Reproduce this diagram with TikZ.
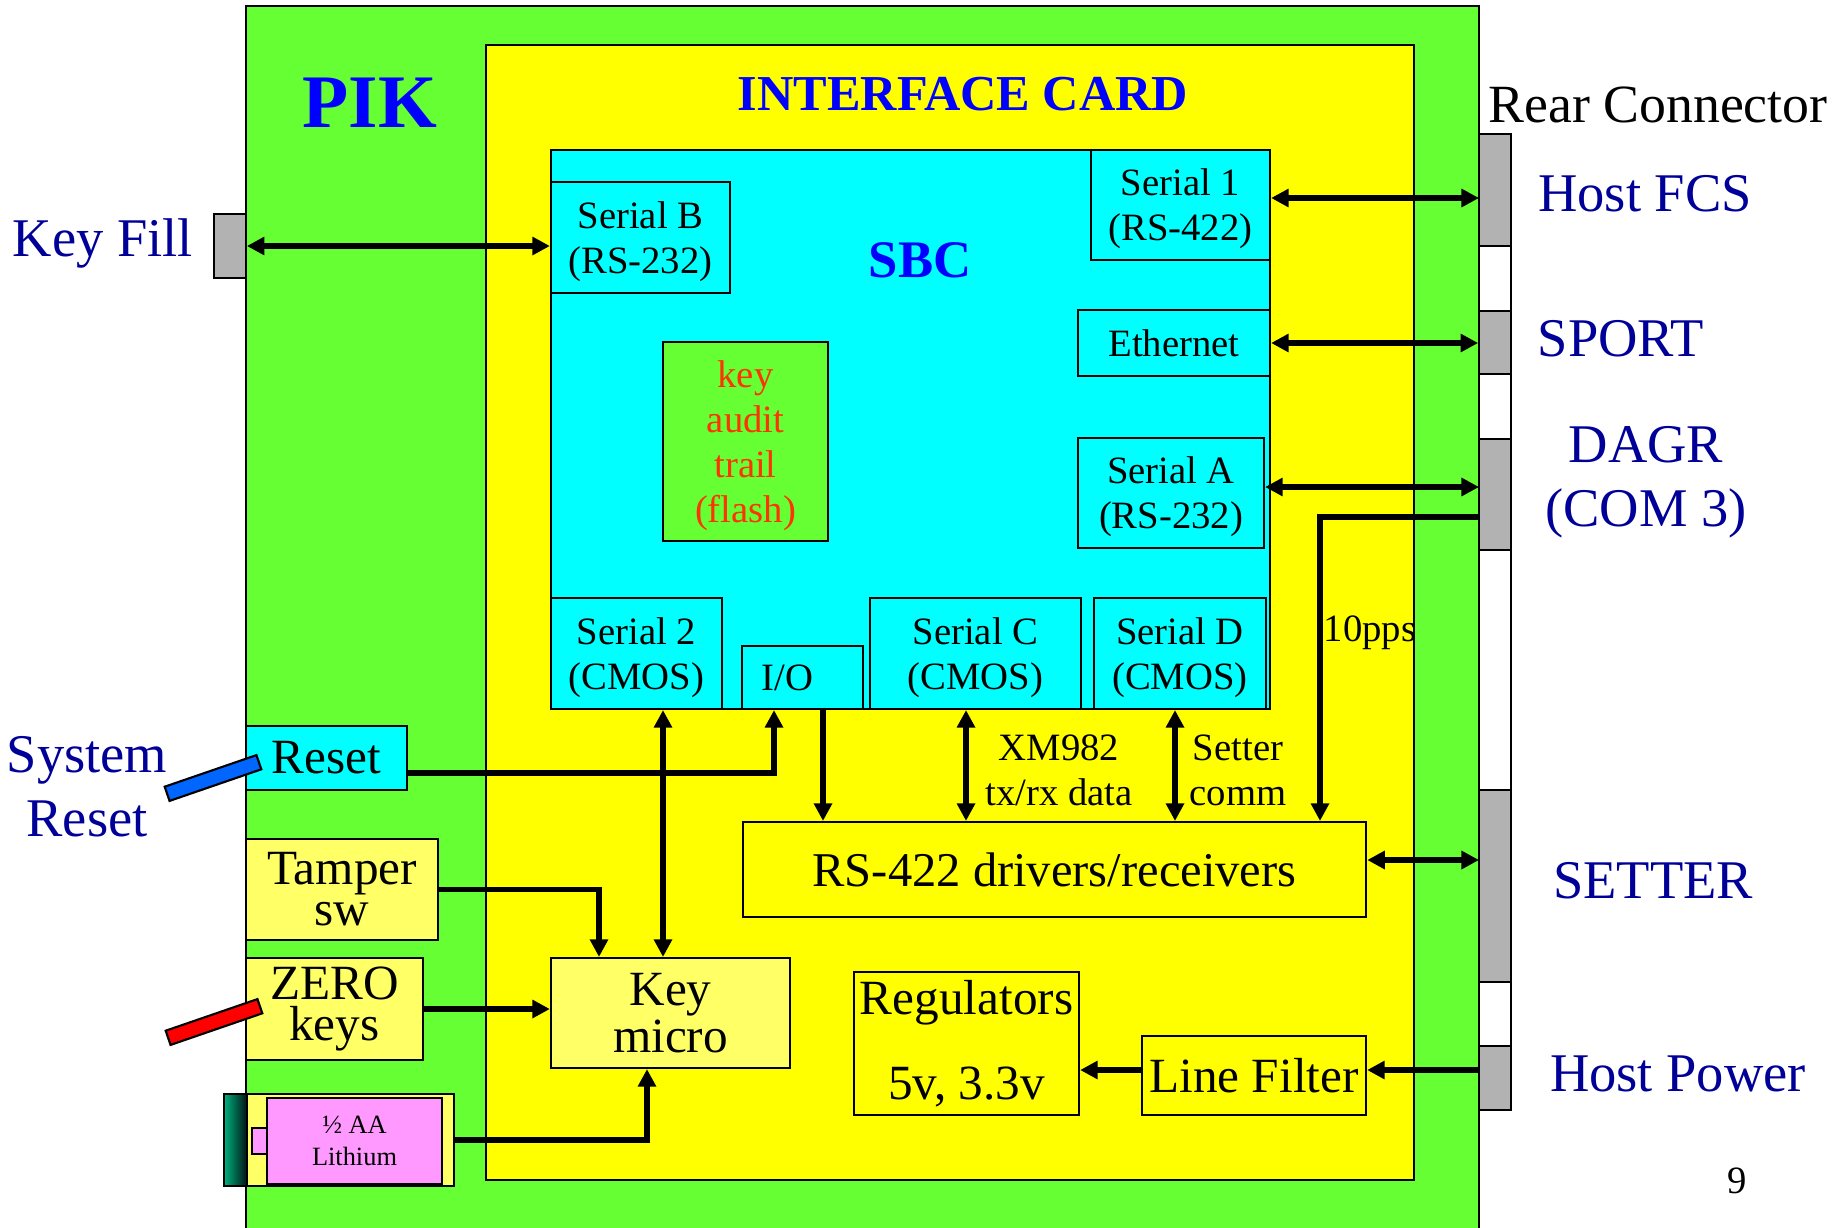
\documentclass[tikz,border=0pt]{standalone}
\usepackage{fontspec}
\setmainfont{Liberation Serif}
\usetikzlibrary{arrows.meta}
\definecolor{pikgreen}{RGB}{102,255,51}
\definecolor{cardyellow}{RGB}{255,255,0}
\definecolor{sbccyan}{RGB}{0,255,255}
\definecolor{paleyellow}{RGB}{255,255,102}
\definecolor{conngray}{RGB}{178,178,178}
\definecolor{navy}{RGB}{0,0,153}
\definecolor{auditred}{RGB}{255,51,0}
\definecolor{battpink}{RGB}{255,153,255}
\definecolor{battteal}{RGB}{0,176,128}
\definecolor{keyblue}{RGB}{0,102,255}
\tikzset{
 sbox/.style={draw,fill=sbccyan,line width=0.6pt,inner sep=0pt,align=center,font=\fontsize{11}{12.8}\selectfont,text depth=-0.5pt},
 ybox/.style={draw,line width=0.6pt,inner sep=0pt,align=center,font=\fontsize{14}{11.6}\selectfont},
 conn/.style={draw,fill=conngray,line width=0.5pt,minimum width=0.32cm,inner sep=0pt},
 lbl/.style={text=navy,align=center,font=\fontsize{15.5}{18.2}\selectfont},
 note/.style={align=center,font=\fontsize{11}{12.8}\selectfont},
 link/.style={line width=1.5pt},
}

\begin{document}
\begin{tikzpicture}[x=0.01cm,y=-0.01cm,>={Triangle[length=5pt,width=5pt]}]
\useasboundingbox (0,0) rectangle (1837,1227);
\draw[fill=pikgreen,line width=0.4pt] (246,6) rectangle (1479,1240);
\draw[fill=cardyellow,line width=0.6pt] (486,45) rectangle (1414,1180);
\draw[fill=sbccyan,line width=0.6pt] (551,150) rectangle (1270,709);
\draw[fill=white,line width=0.6pt] (1479,134) rectangle (1511,1110);
\node[text=blue,font=\fontsize{21.5}{24}\selectfont\bfseries] (piklabel) at (370,103) {PIK};
\node[text=blue,font=\fontsize{14.3}{17}\selectfont\bfseries] (cardlabel) at (963,94) {INTERFACE CARD};
\node[text=blue,font=\fontsize{15}{17}\selectfont\bfseries] (sbclabel) at (920,260) {SBC};

\node[conn,minimum height=1.12cm] (hostfcs) at (1495,190) {};
\node[conn,minimum height=0.63cm] (sport) at (1495,342.5) {};
\node[conn,minimum height=1.11cm] (dagr) at (1495,494.5) {};
\node[conn,minimum height=1.92cm] (setter) at (1495,886) {};
\node[conn,minimum height=0.64cm] (hostpwr) at (1495,1078) {};
\node[conn,minimum height=0.64cm] (keyfill) at (230,246) {};
\node[font=\fontsize{15.3}{18.2}\selectfont] (rearlabel) at (1658,105) {Rear Connector};
\node[lbl] (fcslabel) at (1645,194) {Host FCS};
\node[lbl] (sportlabel) at (1621,339) {SPORT};
\node[lbl] (dagrlabel) at (1646,482) {DAGR\\(COM 3)};
\node[lbl] (setterlabel) at (1653,881) {SETTER};
\node[lbl] (pwrlabel) at (1678,1074) {Host Power};
\node[lbl] (kflabel) at (103,243) {Key Fill};
\node[lbl] (sysrstlabel) at (87,787) {System\\Reset};
\node[note] (pagenum) at (1737,1181) {9};

\node[sbox,minimum width=1.79cm,minimum height=1.11cm] (serB) at (640.5,237.5) {Serial B\\(RS-232)};
\node[sbox,minimum width=1.79cm,minimum height=1.10cm] (ser1) at (1180.5,205) {Serial 1\\(RS-422)};
\node[sbox,minimum width=1.92cm,minimum height=0.66cm] (eth) at (1174,343) {Ethernet};
\node[sbox,minimum width=1.86cm,minimum height=1.10cm] (serA) at (1171,493) {Serial A\\(RS-232)};
\node[sbox,fill=pikgreen,text=auditred,minimum width=1.65cm,minimum height=1.99cm] (audit) at (745.5,441.5) {key\\audit\\trail\\(flash)};
\node[sbox,minimum width=1.71cm,minimum height=1.11cm] (ser2) at (636.5,653.5) {Serial 2\\(CMOS)};
\node[sbox,align=left,text width=0.81cm,inner xsep=0.2cm,minimum height=0.63cm] (io) at (802.5,677.5) {I/O};
\node[sbox,minimum width=2.11cm,minimum height=1.11cm] (serC) at (975.5,653.5) {Serial C\\(CMOS)};
\node[sbox,minimum width=1.72cm,minimum height=1.11cm] (serD) at (1180,653.5) {Serial D\\(CMOS)};

\node[ybox,fill=cardyellow,font=\fontsize{13.8}{16}\selectfont,minimum width=6.23cm,minimum height=0.95cm] (rs422) at (1054.5,869.5) {RS-422 drivers/receivers};
\node[ybox,fill=cardyellow,minimum width=2.25cm,minimum height=1.43cm] (regs) at (966.5,1043.5) {Regulators\\[11pt]5v, 3.3v};
\node[ybox,fill=cardyellow,minimum width=2.24cm,minimum height=0.79cm] (filter) at (1254,1075.5) {Line Filter};
\node[ybox,fill=paleyellow,font=\fontsize{14}{12.2}\selectfont,minimum width=2.39cm,minimum height=1.10cm] (keymicro) at (670.5,1013) {Key\\micro};
\node[ybox,fill=sbccyan,minimum width=1.61cm,minimum height=0.64cm] (reset) at (326.5,758) {Reset};
\node[ybox,fill=paleyellow,minimum width=1.92cm,minimum height=1.01cm] (tamper) at (342,889.5) {Tamper\\sw};
\node[ybox,fill=paleyellow,minimum width=1.77cm,minimum height=1.02cm] (zero) at (334.5,1009) {ZERO\\keys};

\node[draw,fill=paleyellow,line width=0.6pt,minimum width=2.08cm,minimum height=0.92cm,inner sep=0pt] (holder) at (350,1140) {};
\node[draw,left color=battteal,right color=black!85!teal,line width=0.6pt,minimum width=0.23cm,minimum height=0.92cm,inner sep=0pt] (battcap) at (235.5,1140) {};
\node[draw,fill=battpink,line width=0.6pt,minimum width=1.75cm,minimum height=0.86cm,inner sep=0pt,align=center,font=\fontsize{7.5}{9.1}\selectfont] (batt) at (354.5,1141) {½ AA\\Lithium};
\node[draw,fill=battpink,line width=0.6pt,minimum width=0.15cm,minimum height=0.26cm,inner sep=0pt] (nub) at (259.5,1141) {};

\node[draw,fill=keyblue,line width=0.6pt,minimum width=0.97cm,minimum height=0.15cm,inner sep=0pt,rotate=19] (rstkey) at (213,778) {};
\node[draw,fill=red,line width=0.6pt,minimum width=0.97cm,minimum height=0.15cm,inner sep=0pt,rotate=19] (zerokey) at (214,1022) {};

\coordinate (fcspin) at (1479,198);
\coordinate (dagrpin) at (1479,487);
\coordinate (ppspin) at (1479,517);
\coordinate (ppsdrop) at (1320,517);
\coordinate (setterpin) at (1479,860);
\coordinate (pwrpin) at (1479,1070);
\coordinate (rstbend) at (774,773);
\coordinate (iodrop) at (823,760);
\coordinate (s2bus) at (663,800);
\coordinate (xmbus) at (966,760);
\coordinate (setbus) at (1175,760);
\coordinate (tampdrop) at (599,900);
\coordinate (battrise) at (647,1100);

\draw[link,<->] (keyfill.east) -- (keyfill.east -| serB.west);
\draw[link,<->] (fcspin -| ser1.east) -- (fcspin);
\draw[link,<->] (eth.east) -- (eth.east -| sport.west);
\draw[link,<->] (dagrpin -| serA.east) -- (dagrpin);
\draw[link,->] (ppspin) -- (ppsdrop) -- (ppsdrop |- rs422.north);
\draw[link,<->] (setterpin -| rs422.east) -- (setterpin);
\draw[link,->] (pwrpin) -- (pwrpin -| filter.east);
\draw[link,->] (pwrpin -| filter.west) -- (pwrpin -| regs.east);
\draw[link,->] (rstbend -| reset.east) -- (rstbend) -- (rstbend |- io.south);
\draw[link,->] (iodrop |- io.south) -- (iodrop |- rs422.north);
\draw[link,<->] (s2bus |- ser2.south) -- (s2bus |- keymicro.north);
\draw[link,<->] (xmbus |- serC.south) -- (xmbus |- rs422.north);
\draw[link,<->] (setbus |- serD.south) -- (setbus |- rs422.north);
\draw[link,->] (tamper.east) -- (tamper.east -| tampdrop) -- (tampdrop |- keymicro.north);
\draw[link,->] (zero.east) -- (zero.east -| keymicro.west);
\draw[link,->] (holder.east) -- (holder.east -| battrise) -- (battrise |- keymicro.south);
\node[note] (xmlabel) at (1059,770) {XM982\\tx/rx data};
\node[note] (setlabel) at (1238,770) {Setter\\comm};
\node[note] (ppslabel) at (1370,633) {10pps};
\end{tikzpicture}
\end{document}
